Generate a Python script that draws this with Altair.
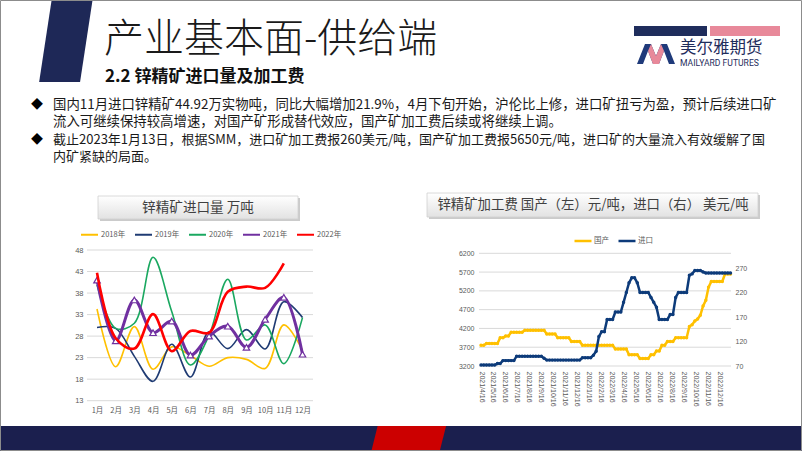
import altair as alt
import pandas as pd

CJK = "Noto Sans CJK SC"
SANS = "Liberation Sans"

# ---------------- left chart: zinc concentrate imports (万吨) ----------------
months = [1, 2, 3, 4, 5, 6, 7, 8, 9, 10, 11, 12]
years = ["2018年", "2019年", "2020年", "2021年", "2022年"]
imp_2018 = [34.3, 20.9, 30.2, 20.3, 25.5, 23.5, 21.0, 23.0, 22.6, 20.5, 30.6, 24.7]
imp_2019 = [30.0, 29.8, 23.3, 17.5, 26.1, 18.5, 29.0, 25.1, 29.5, 25.0, 36.0, 32.3]
imp_2020 = [39.9, 29.8, 31.0, 46.3, 33.7, 21.3, 28.2, 41.2, 27.1, 30.6, 21.6, 32.3]
imp_2021 = [41.0, 26.9, 36.4, 28.8, 31.5, 23.6, 28.0, 30.3, 25.4, 31.9, 37.0, 23.8]
imp_2022 = [42.7, 27.5, 25.1, 33.1, 24.5, 29.2, 28.8, 38.3, 39.5, 39.2, 44.92, None]
year_colors = ["#FFC000", "#1F3B73", "#1AA860", "#7030A0", "#FF0000"]
year_widths = [1.6, 1.6, 1.6, 3.0, 2.6]
left_ticks = [13, 18, 23, 28, 33, 38, 43, 48]

# ---------------- right chart: TC, weekly from 2021/4/16 ----------------
tc_start = "2021-04-16"
tc_domestic = [
    3750, 3750, 3800, 3800, 3800, 3800, 3800, 3950, 3950, 4000,
    4000, 4100, 4100, 4100, 4100, 4100, 4150, 4150, 4150, 4150,
    4150, 4150, 4150, 4150, 4050, 4050, 4050, 4050, 3950, 3950,
    3950, 3950, 3950, 3850, 3850, 3850, 3850, 3750, 3750, 3750,
    3750, 3750, 3750, 3750, 3750, 3750, 3750, 3750, 3750, 3650,
    3650, 3650, 3650, 3650, 3500, 3500, 3500, 3500, 3400, 3400,
    3400, 3400, 3500, 3500, 3600, 3600, 3750, 3750, 3850, 3850,
    3850, 3950, 3950, 3950, 3950, 3950, 4250, 4300, 4400, 4450,
    4550, 4800, 4950, 5300, 5450, 5450, 5450, 5450, 5450, 5650,
    5650, 5650,
]
tc_import = [
    72, 72, 72, 72, 72, 72, 75, 75, 81, 81,
    81, 81, 81, 90, 90, 90, 90, 90, 90, 90,
    90, 90, 90, 86, 82, 82, 82, 82, 82, 82,
    82, 82, 82, 82, 82, 82, 82, 87, 87, 87,
    87, 92, 100, 130, 140, 140, 165, 165, 165, 180,
    180, 180, 200, 220, 240, 250, 250, 240, 220, 220,
    220, 220, 210, 200, 190, 165, 165, 165, 165, 175,
    175, 210, 220, 220, 220, 220, 255, 258, 265, 265,
    265, 262, 260, 260, 260, 260, 260, 260, 260, 260,
    260, 260,
]
right_left_ticks = [3200, 3700, 4200, 4700, 5200, 5700, 6200]
right_right_ticks = [70, 120, 170, 220, 270]
tick_months = [(2021, m) for m in range(4, 13)] + [(2022, m) for m in range(1, 13)]
series_names = ["国产", "进口"]
series_colors = ["#FFC000", "#0D3B7A"]

# ---------------- tables ----------------
rows = []
for yr, vals in zip(years, [imp_2018, imp_2019, imp_2020, imp_2021, imp_2022]):
    for m, v in zip(months, vals):
        if v is not None:
            rows.append({"month": m, "year": yr, "value": v})
df_left = pd.DataFrame(rows)
df_lgrid = pd.DataFrame({"value": left_ticks})

dates = pd.date_range(tc_start, periods=len(tc_domestic), freq="7D").strftime("%Y/%m/%d")
df_dom = pd.DataFrame({"date": dates, "v": tc_domestic, "s": "国产"})
df_imp = pd.DataFrame({"date": dates, "v": tc_import, "s": "进口"})
df_rgrid = pd.DataFrame({"v": right_left_ticks})

one = pd.DataFrame({"k": [0]})


def txt(s, x, y, size, color="#000000", font=CJK, weight="normal", align="left", baseline="middle"):
    return alt.Chart(one).mark_text(
        text=s, fontSize=size, color=color, font=font, fontWeight=weight,
        align=align, baseline=baseline
    ).encode(x=alt.value(x), y=alt.value(y))


def rect(x, x2, y, y2, **kw):
    return alt.Chart(one).mark_rect(**kw).encode(
        x=alt.value(x), x2=alt.value(x2), y=alt.value(y), y2=alt.value(y2))


def shape(path, cx, cy, size, color):
    return alt.Chart(one).mark_point(
        shape=path, size=size, filled=True, color=color, opacity=1, strokeWidth=0
    ).encode(x=alt.value(cx), y=alt.value(cy))


grad = alt.LinearGradient(
    gradient="linear",
    stops=[alt.GradientStop(color="#FFFFFF", offset=0), alt.GradientStop(color="#E2E2E2", offset=1)],
    x1=0, x2=0, y1=0, y2=1)

# ---------------- decorations ----------------
deco = []
deco.append(shape("M-0.343,-1.05L0.655,-1.05L0.343,1L-0.655,1Z", 66, 41, 6724, "#1E2857"))
deco.append(txt("产业基本面-供给端", 104, 40, 40, color="#1A1A1A", weight=300))
deco.append(txt("2.2 锌精矿进口量及加工费", 105, 77, 17, color="#111111", weight="bold"))
# logo
deco.append(rect(634, 707, 26, 36, color="#1F2D5C"))
deco.append(rect(710, 780, 26, 36, color="#E8899A"))
deco.append(shape("M-1,0.526L-0.579,-0.526L-0.263,-0.526L0,0.105L0.263,-0.526L0.579,-0.526L1,0.526"
                  "L0.684,0.526L0.421,-0.158L0.158,0.526L-0.158,0.526L-0.421,-0.158L-0.684,0.526Z",
                  656, 54, 1444, "#1F3A7A"))
deco.append(shape("M-0.263,-0.526L0,0.105L0.263,-0.526L0.421,-0.158L0.158,0.526L-0.158,0.526L-0.421,-0.158Z",
                  656, 54, 1444, "#E8899A"))
deco.append(txt("美尔雅期货", 680, 48, 16.5, color="#1F2D5C"))
deco.append(txt("MAILYARD FUTURES", 680, 62.5, 8.6, color="#1F2D5C", font="Roboto"))
# body text
deco.append(txt("◆", 37, 105, 12, align="center"))
deco.append(txt("国内11月进口锌精矿44.92万实物吨，同比大幅增加21.9%，4月下旬开始，沪伦比上修，进口矿扭亏为盈，预计后续进口矿",
                53, 105, 13.4, color="#1A1A1A"))
deco.append(txt("流入可继续保持较高增速，对国产矿形成替代效应，国产矿加工费后续或将继续上调。",
                53, 122, 13.4, color="#1A1A1A"))
deco.append(txt("◆", 37, 140, 12, align="center"))
deco.append(txt("截止2023年1月13日，根据SMM，进口矿加工费报260美元/吨，国产矿加工费报5650元/吨，进口矿的大量流入有效缓解了国",
                53, 140, 13.0, color="#1A1A1A"))
deco.append(txt("内矿紧缺的局面。", 53, 157, 13.0, color="#1A1A1A"))
# chart title boxes
deco.append(rect(100, 300, 198, 221, color="#B5B5B5", opacity=0.7))
deco.append(rect(98, 298, 196, 219, fill=grad, stroke="#D0D0D0", strokeWidth=0.8))
deco.append(txt("锌精矿进口量 万吨", 198, 207.5, 13.6, color="#404040", align="center"))
deco.append(rect(429, 760, 195, 219, color="#B5B5B5", opacity=0.7))
deco.append(rect(427, 758, 193, 217, fill=grad, stroke="#D0D0D0", strokeWidth=0.8))
deco.append(txt("锌精矿加工费  国产（左）元/吨，进口（右） 美元/吨", 593, 205, 13.4,
                color="#404040", align="center"))

# ---------------- left chart ----------------
lx = alt.X("month:Q",
           scale=alt.Scale(domain=[1, 12], range=[97, 302.5], nice=False, zero=False),
           axis=alt.Axis(values=months, labelExpr="datum.value + '月'", orient="bottom", offset=-50.3,
                         grid=False, domain=False, ticks=False, tickSize=0, labelPadding=6,
                         labelFontSize=7.5, labelColor="#595959", labelFont=CJK, labelFlush=False,
                         labelOverlap=False, title=None))
ly = alt.Y("value:Q",
           scale=alt.Scale(domain=[13, 48], range=[400.7, 250], nice=False, zero=False),
           axis=alt.Axis(values=left_ticks, orient="left", offset=-83, grid=False, domain=False,
                         ticks=False, tickSize=0, labelPadding=0, labelFontSize=7.5, labelColor="#595959",
                         labelFont=SANS, format="d", labelFlush=False, title=None))
lcolor = alt.Color("year:N",
                   scale=alt.Scale(domain=years, range=year_colors),
                   legend=alt.Legend(orient="none", legendX=80, legendY=225, direction="horizontal",
                                     title=None, symbolType="stroke", symbolSize=289, symbolStrokeWidth=2,
                                     labelFontSize=7.5, labelColor="#595959", labelFont=CJK, labelOffset=2,
                                     columnPadding=5, padding=0))

left_layers = [alt.Chart(df_lgrid).mark_rule(color="#D9D9D9", strokeWidth=1).encode(
    y=ly, x=alt.value(87), x2=alt.value(313))]
for yr, w in zip(years, year_widths):
    left_layers.append(
        alt.Chart(df_left).transform_filter(alt.datum.year == yr)
        .mark_line(interpolate="catmull-rom", strokeWidth=w)
        .encode(x=lx, y=ly, color=lcolor)
    )
    if yr == "2021年":
        left_layers.append(
            alt.Chart(df_left).transform_filter(alt.datum.year == yr)
            .mark_point(shape="triangle-up", filled=True, fill="#FFFFFF", stroke="#7030A0",
                        strokeWidth=1.2, size=42, opacity=1)
            .encode(x=lx, y=ly)
        )
left_chart = alt.layer(*left_layers)

# ---------------- right chart ----------------
rx = alt.X("date:T",
           scale=alt.Scale(domain=[alt.DateTime(year=2021, month=4, date=16),
                                   alt.DateTime(year=2023, month=1, date=13)],
                           range=[481, 730.5]),
           axis=alt.Axis(values=[alt.DateTime(year=y, month=m, date=16) for (y, m) in tick_months],
                         format="%Y/%-m/%-d", labelAngle=90, orient="bottom", offset=-85,
                         labelPadding=5, grid=False, domain=False, ticks=False, tickSize=0,
                         labelFontSize=7, labelColor="#595959", labelFont=SANS, labelFlush=False,
                         labelOverlap=False, title=None))
ryl = alt.Y("v:Q",
            scale=alt.Scale(domain=[3200, 6200], range=[366, 253.3], nice=False, zero=False),
            axis=alt.Axis(values=right_left_ticks, orient="left", offset=-474, grid=False, domain=False,
                          ticks=False, tickSize=0, labelPadding=0, labelFontSize=7, labelColor="#595959",
                          labelFont=SANS, format="d", labelFlush=False, title=None))
ryr = alt.Y("v:Q",
            scale=alt.Scale(domain=[70, 300], range=[366, 253.3], nice=False, zero=False),
            axis=alt.Axis(values=right_right_ticks, orient="right", offset=-67, grid=False, domain=False,
                          ticks=False, tickSize=0, labelPadding=0, labelFontSize=7, labelColor="#595959",
                          labelFont=SANS, format="d", labelFlush=False, title=None))
rcolor = alt.Color("s:N",
                   scale=alt.Scale(domain=series_names, range=series_colors),
                   legend=alt.Legend(orient="none", legendX=573, legendY=231, direction="horizontal",
                                     title=None, symbolType="stroke", symbolSize=289, symbolStrokeWidth=2.5,
                                     labelFontSize=7.5, labelColor="#595959", labelFont=CJK, labelOffset=1,
                                     columnPadding=4, padding=0))

r_grid = alt.Chart(df_rgrid).mark_rule(color="#D9D9D9", strokeWidth=1).encode(
    y=ryl, x=alt.value(479), x2=alt.value(731))
r_dom = alt.Chart(df_dom).mark_line(
    strokeWidth=2.5, point=alt.OverlayMarkDef(filled=True, size=12, opacity=1)
).encode(x=rx, y=ryl, color=rcolor)
r_imp = alt.Chart(df_imp).mark_line(
    strokeWidth=2.5, color=series_colors[1],
    point=alt.OverlayMarkDef(filled=True, size=12, color=series_colors[1], opacity=1)
).encode(x=rx, y=ryr)
right_chart = alt.layer(alt.layer(r_grid, r_dom), r_imp).resolve_scale(y="independent")

# ---------------- footer + frame ----------------
footer = [
    rect(0, 802, 426, 451, color="#1B1F4E"),
    shape("M-2.486,-1L2.988,-1L2.486,1L-2.988,1Z", 408.7, 438.5, 625, "#CC0000"),
    rect(0.5, 801.5, 0.5, 450.5, fill="#FFFFFF", fillOpacity=0, stroke="#8C8C8C", strokeWidth=1),
]

chart = alt.layer(*deco, left_chart, right_chart, *footer).resolve_scale(
    x="independent", y="independent", color="independent"
).properties(
    width=802, height=451, padding=0,
    autosize=alt.AutoSizeParams(type="none"),
    background="#FFFFFF",
).configure_view(stroke=None)

chart.save("out.html", embed_options={"renderer": "svg", "actions": False})
